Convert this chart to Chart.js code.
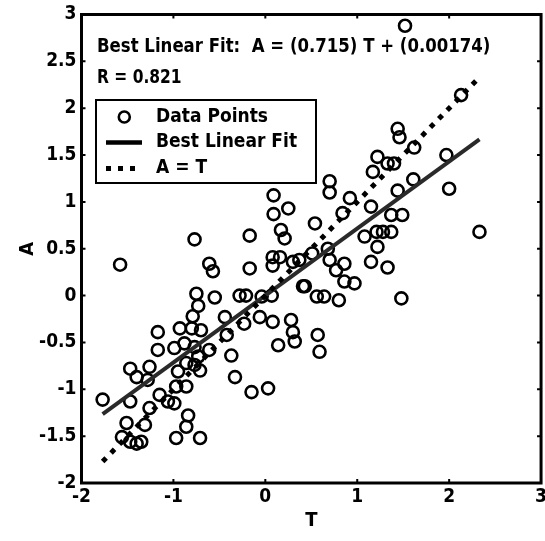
<!DOCTYPE html>
<html><head><meta charset="utf-8">
<script src="https://cdn.jsdelivr.net/npm/chart.js@4/dist/chart.umd.min.js"></script>
<style>
html,body{margin:0;padding:0;background:#fff;overflow:hidden;}
#wrap{position:relative;width:552px;height:541px;}
</style></head><body>
<div id="wrap"><canvas id="c"></canvas></div>
<script>
// ---- data ----
const T_values = [1.52,2.13,1.44,1.46,1.62,1.97,1.22,1.33,1.40,1.17,1.61,1.44,2.00,0.70,0.70,0.92,0.84,1.15,0.54,1.37,
  1.49,2.33,1.08,1.21,1.28,1.37,1.22,0.68,0.70,0.51,0.86,1.15,1.33,0.77,0.43,0.86,0.97,0.64,0.80,1.48,
  0.57,0.59,0.09,0.25,0.09,-0.77,-0.17,0.17,0.21,-1.58,-0.61,-0.57,-0.17,0.08,0.16,0.08,0.30,0.37,0.41,0.56,
  -0.75,-0.73,-0.79,-0.55,-0.28,-0.21,-0.04,0.07,-0.44,-0.23,-0.06,0.08,0.28,-1.17,-0.93,-0.80,-0.70,-0.42,0.30,0.32,
  0.14,-1.17,-0.99,-0.88,-0.77,-0.73,-0.77,-0.71,-0.86,-0.61,-0.37,-1.47,-1.26,-1.40,-1.28,-0.95,-0.97,-0.86,-0.33,-1.77,
  -1.47,-1.15,-1.06,-0.99,-1.26,-1.31,-1.51,-1.56,-1.47,-1.40,-1.35,-0.84,-0.86,-0.97,-0.71,-0.15,0.03];
const A_values = [2.88,2.14,1.78,1.69,1.58,1.50,1.48,1.41,1.41,1.32,1.24,1.12,1.14,1.22,1.10,1.04,0.88,0.95,0.77,0.86,
  0.86,0.68,0.63,0.68,0.68,0.68,0.52,0.50,0.38,0.45,0.34,0.36,0.30,0.27,0.10,0.15,0.13,-0.01,-0.05,-0.03,
  -0.42,-0.60,1.07,0.93,0.87,0.60,0.64,0.70,0.61,0.33,0.34,0.26,0.29,0.41,0.41,0.32,0.36,0.38,0.10,-0.01,
  0.02,-0.11,-0.22,-0.02,0.00,0.00,-0.01,0.00,-0.23,-0.30,-0.23,-0.28,-0.26,-0.39,-0.35,-0.35,-0.37,-0.42,-0.39,-0.49,
  -0.53,-0.58,-0.56,-0.51,-0.55,-0.65,-0.74,-0.80,-0.72,-0.58,-0.64,-0.78,-0.76,-0.87,-0.90,-0.81,-0.97,-0.97,-0.87,-1.11,
  -1.13,-1.06,-1.13,-1.15,-1.20,-1.38,-1.36,-1.51,-1.56,-1.58,-1.56,-1.28,-1.40,-1.52,-1.52,-1.03,-0.99];
const fitSlope = 0.715;
const fitIntercept = 0.00174;
const rValue = 0.821;
const xTickValues = [-2,-1,0,1,2,3];
const xTickLabels = ['-2','-1','0','1','2','3'];
const yTickValues = [-2,-1.5,-1,-0.5,0,0.5,1,1.5,2,2.5,3];
const yTickLabels = ['-2','-1.5','-1','-0.5','0','0.5','1','1.5','2','2.5','3'];
const legendLabels = ['Data Points','Best Linear Fit','A = T'];
const xTitle = 'T';
const yTitle = 'A';

// ---- derived ----
const FONT = '"Liberation Sans Narrow","DejaVu Sans Condensed","Liberation Sans",Arial,sans-serif';
const points = T_values.map((t,i)=>({x:t,y:A_values[i]}));
const tMin = Math.min(...T_values), tMax = Math.max(...T_values);
const fitLine = [{x:tMin,y:fitSlope*tMin+fitIntercept},{x:tMax,y:fitSlope*tMax+fitIntercept}];
const idLine = [{x:tMin,y:tMin},{x:tMax,y:tMax}];
const DOT_DASH = [5,7];

function squeezedText(ctx, text, x, y, sx){
  ctx.save();
  ctx.translate(x, y);
  ctx.scale(sx, 1);
  ctx.fillText(text, 0, 0);
  ctx.restore();
}

const framePlugin = {
  id:'frame',
  afterDraw(chart){
    const ctx = chart.ctx, a = chart.chartArea;
    const xs = chart.scales.x, ys = chart.scales.y;
    ctx.save();
    // inward ticks
    ctx.strokeStyle = '#000'; ctx.lineWidth = 2;
    ctx.beginPath();
    xTickValues.forEach(v=>{
      const px = xs.getPixelForValue(v);
      ctx.moveTo(px,a.bottom); ctx.lineTo(px,a.bottom-4);
      ctx.moveTo(px,a.top); ctx.lineTo(px,a.top+4);
    });
    yTickValues.forEach(v=>{
      const py = ys.getPixelForValue(v);
      ctx.moveTo(a.left,py); ctx.lineTo(a.left+4,py);
      ctx.moveTo(a.right,py); ctx.lineTo(a.right-4,py);
    });
    ctx.stroke();
    // frame
    ctx.lineWidth = 3;
    ctx.strokeRect(a.left, a.top, a.right-a.left, a.bottom-a.top);

    // annotation text
    ctx.fillStyle = '#000';
    ctx.textBaseline = 'middle';
    ctx.textAlign = 'left';
    ctx.font = 'bold 20px ' + FONT;
    squeezedText(ctx, 'Best Linear Fit:  A = (' + fitSlope + ') T + (' + fitIntercept + ')', 97, 47, 0.92);
    squeezedText(ctx, 'R = ' + rValue, 97, 78, 0.86);

    // legend box
    const lx = 96, ly = 100, lw = 220, lh = 83;
    ctx.fillStyle = '#fff';
    ctx.fillRect(lx, ly, lw, lh);
    ctx.lineWidth = 2; ctx.strokeStyle = '#000';
    ctx.strokeRect(lx, ly, lw, lh);
    ctx.fillStyle = '#000';
    ctx.font = 'bold 19px ' + FONT;
    const rows = [117, 142.5, 168.5];
    legendLabels.forEach((t,i)=>ctx.fillText(t, 156, rows[i]));
    // marker
    ctx.lineWidth = 2.6;
    ctx.beginPath(); ctx.arc(124.3, rows[0], 5.5, 0, Math.PI*2); ctx.stroke();
    // fit sample
    ctx.lineWidth = 4.5;
    ctx.beginPath(); ctx.moveTo(106, rows[1]); ctx.lineTo(142, rows[1]); ctx.stroke();
    // dotted sample
    ctx.lineWidth = 5; ctx.setLineDash(DOT_DASH);
    ctx.beginPath(); ctx.moveTo(106, rows[2]); ctx.lineTo(136, rows[2]); ctx.stroke();
    ctx.restore();
  }
};

new Chart(document.getElementById('c'), {
  type:'scatter',
  data:{
    datasets:[
      {label:legendLabels[0], data:points, pointStyle:'circle', pointRadius:6, pointBorderWidth:2.6,
       borderColor:'#000', backgroundColor:'rgba(0,0,0,0)', showLine:false, order:3},
      {label:legendLabels[1], data:fitLine, showLine:true, borderColor:'#2a2a2a', borderWidth:4,
       pointRadius:0, order:2},
      {label:legendLabels[2], data:idLine, showLine:true, borderColor:'#000', borderWidth:5,
       borderDash:DOT_DASH, pointRadius:0, order:1}
    ]
  },
  options:{
    responsive:true, maintainAspectRatio:false, animation:false,
    layout:{padding:{left:0,right:10,top:14,bottom:0}},
    plugins:{legend:{display:false}, tooltip:{enabled:false}},
    scales:{
      x:{type:'linear', min:-2, max:3,
         grid:{display:false, drawTicks:false}, border:{display:false},
         afterBuildTicks:s=>{s.ticks = xTickValues.map(v=>({value:v}));},
         afterFit:s=>{s.height = 58;},
         ticks:{color:'#000', padding:5, maxRotation:0, autoSkip:false,
                font:{family:FONT, size:19, weight:'bold', lineHeight:1},
                callback:(v)=>xTickLabels[xTickValues.indexOf(v)]},
         title:{display:true, text:xTitle, color:'#000', padding:{top:0,bottom:10},
                font:{family:FONT, size:20, weight:'bold', lineHeight:1}}},
      y:{type:'linear', min:-2, max:3,
         grid:{display:false, drawTicks:false}, border:{display:false},
         afterBuildTicks:s=>{s.ticks = yTickValues.map(v=>({value:v}));},
         afterFit:s=>{s.width = 81.5;},
         ticks:{color:'#000', padding:5, autoSkip:false,
                font:{family:FONT, size:19, weight:'bold', lineHeight:1},
                callback:(v)=>yTickLabels[yTickValues.indexOf(v)]},
         title:{display:true, text:yTitle, color:'#000', padding:{top:18,bottom:0},
                font:{family:FONT, size:20, weight:'bold', lineHeight:1}}}
    }
  },
  plugins:[framePlugin]
});
</script>
</body></html>
